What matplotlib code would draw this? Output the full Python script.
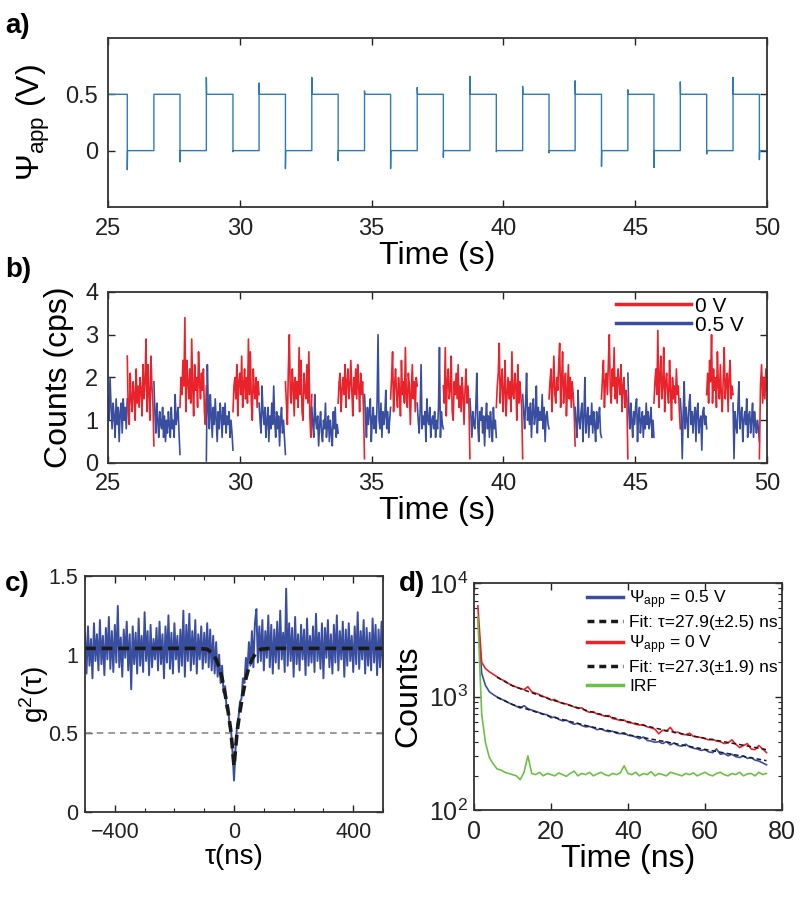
import numpy as np
import matplotlib
matplotlib.use("Agg")
import matplotlib.pyplot as plt
from matplotlib.lines import Line2D
from matplotlib.ticker import MultipleLocator

plt.rcParams['font.family'] = ['Liberation Sans', 'DejaVu Sans']
plt.rcParams['mathtext.fontset'] = 'custom'
plt.rcParams['mathtext.rm'] = 'Liberation Sans'
plt.rcParams['mathtext.it'] = 'Liberation Sans:italic'
plt.rcParams['mathtext.bf'] = 'Liberation Sans:bold'
plt.rcParams['axes.unicode_minus'] = True

# ---- data ----
# a) applied voltage: switching times, level after each switch, spike at each switch
switch_times = [25.73, 26.74, 27.73, 28.73, 29.74, 30.73, 31.73, 32.73, 33.73, 34.73,
                35.72, 36.73, 37.72, 38.73, 39.73, 40.73, 41.73, 42.72, 43.72, 44.72,
                45.71, 46.71, 47.71, 48.71, 49.71]
start_level = 0.5
levels = [0.0, 0.5] * 12 + [0.0]
spikes = [-0.17, 0.50, -0.10, 0.65, -0.01, 0.60, -0.16, 0.65, -0.09, 0.53,
          -0.16, 0.56, -0.06, 0.66, -0.01, 0.57, -0.02, 0.62, -0.14, 0.54,
          -0.15, 0.61, -0.03, 0.65, -0.08]

# b) counts (cps) in each segment between switches (blue = 0.5 V, red = 0 V)
count_segments = [
    [1.5, 1.0, 2.0, 1.3, 0.8, 1.4, 1.1, 0.6, 1.5, 0.9, 1.3, 0.5, 1.2, 1.4, 0.7, 1.5, 1.0, 1.3, 0.8, 1.5],
    [2.5, 1.2, 0.9, 2.1, 1.5, 1.2, 1.9, 1.6, 1.0, 2.2, 1.4, 1.8, 1.3, 2.0, 1.7, 1.1, 2.3, 1.5, 1.9, 2.9, 1.2, 2.3, 1.6, 1.0, 2.5, 1.8, 1.4, 0.4],
    [1.9, 1.2, 0.7, 1.4, 1.0, 0.6, 1.2, 0.9, 0.8, 1.3, 0.6, 1.1, 0.5, 1.0, 0.7, 1.2, 0.9, 0.6, 1.3, 0.8, 1.0, 0.6, 1.6, 0.9, 1.1, 1.3, 0.7, 0.2],
    [1.3, 2.0, 1.6, 2.4, 1.8, 3.4, 1.2, 2.4, 1.9, 1.5, 2.2, 1.4, 2.9, 1.8, 1.1, 2.3, 1.7, 2.0, 1.3, 2.6, 1.9, 1.5, 2.1, 1.7, 2.2, 1.2, 0.9, 1.8],
    [0.05, 2.3, 1.3, 0.8, 1.6, 1.1, 0.6, 1.3, 0.9, 1.5, 1.0, 0.5, 1.2, 0.8, 1.4, 1.1, 0.6, 1.3, 0.9, 1.4, 0.7, 1.1, 0.9, 1.2, 0.6, 1.0, 0.7, 0.3],
    [1.2, 1.8, 2.0, 1.5, 2.3, 1.1, 1.9, 2.1, 1.6, 2.5, 1.3, 1.8, 2.2, 1.5, 2.0, 1.4, 2.9, 1.6, 2.6, 1.4, 1.0, 2.2, 1.7, 1.5, 2.0, 1.3, 1.9, 1.6],
    [1.4, 1.0, 0.7, 1.8, 1.2, 0.9, 1.3, 0.6, 1.0, 1.3, 0.5, 1.1, 0.8, 1.4, 0.9, 1.8, 1.0, 0.6, 1.2, 0.8, 1.1, 0.4, 1.0, 1.3, 0.7, 1.0, 0.6, 0.2],
    [1.9, 1.4, 0.9, 2.2, 3.0, 1.6, 1.4, 2.2, 1.8, 1.1, 2.0, 1.5, 1.9, 1.3, 2.7, 1.6, 2.4, 1.2, 1.0, 2.1, 1.7, 1.5, 2.3, 1.4, 2.6, 1.1, 0.6, 1.6],
    [1.3, 0.9, 0.6, 1.6, 1.0, 0.8, 1.1, 0.4, 0.9, 1.2, 0.7, 0.5, 1.0, 0.8, 1.4, 0.6, 0.9, 1.1, 0.5, 1.0, 0.7, 0.4, 1.2, 0.8, 1.3, 0.6, 0.9, 0.7],
    [1.4, 1.9, 2.1, 1.2, 1.7, 2.0, 1.6, 2.3, 1.3, 1.9, 2.2, 1.5, 1.8, 2.4, 1.7, 1.1, 2.0, 1.6, 2.2, 1.5, 2.3, 1.8, 1.2, 2.1, 1.6, 1.9, 1.2, 0.1],
    [1.6, 1.1, 0.6, 1.3, 0.9, 1.2, 1.5, 0.5, 1.0, 1.3, 0.8, 1.1, 0.7, 1.4, 3.0, 1.0, 0.8, 1.4, 0.6, 1.2, 0.9, 1.1, 1.7, 0.8, 1.2, 0.7, 1.0, 1.3],
    [1.5, 2.0, 2.6, 1.2, 1.8, 2.2, 1.6, 1.3, 2.0, 1.7, 1.1, 2.4, 1.6, 1.9, 1.4, 2.7, 1.5, 1.3, 2.1, 1.8, 0.9, 1.7, 2.3, 1.5, 1.9, 1.2, 2.0, 1.8],
    [1.4, 1.0, 0.7, 1.2, 2.3, 0.8, 1.1, 0.9, 1.2, 0.5, 1.5, 1.0, 0.9, 1.3, 0.6, 1.0, 1.1, 0.8, 1.2, 0.6, 1.0, 0.8, 1.3, 2.7, 0.6, 1.2, 0.9, 0.8],
    [1.8, 1.4, 2.7, 1.1, 1.9, 2.2, 1.5, 1.7, 2.5, 1.2, 1.0, 1.9, 1.6, 2.1, 1.5, 2.3, 1.3, 1.8, 1.2, 2.0, 1.6, 0.9, 1.7, 2.2, 1.4, 1.8, 1.3, 0.1],
    [1.5, 1.1, 0.6, 1.2, 0.9, 0.8, 1.3, 2.1, 0.9, 0.5, 1.2, 1.0, 1.3, 0.7, 1.1, 0.4, 1.0, 1.4, 0.8, 1.1, 0.6, 1.2, 0.9, 0.5, 1.3, 0.8, 1.0, 0.6],
    [1.3, 1.8, 2.1, 2.8, 1.4, 1.9, 2.2, 1.2, 1.7, 2.4, 1.1, 1.6, 2.0, 1.5, 1.9, 1.2, 2.6, 1.6, 1.5, 2.1, 1.8, 1.0, 2.3, 1.4, 1.9, 1.6, 1.3, 0.1],
    [1.6, 1.2, 0.8, 1.4, 2.1, 1.0, 1.3, 0.9, 1.4, 0.6, 1.2, 1.5, 0.9, 1.1, 1.8, 0.7, 1.3, 1.0, 1.2, 1.0, 1.6, 0.8, 1.3, 0.5, 1.1, 1.2, 0.9, 0.8],
    [1.5, 1.9, 2.2, 1.2, 1.8, 2.5, 1.6, 1.4, 2.0, 1.7, 2.3, 2.8, 1.3, 1.9, 2.6, 1.4, 1.8, 2.1, 1.1, 1.7, 2.3, 1.5, 2.0, 1.3, 1.9, 1.6, 1.2, 0.4],
    [1.3, 0.9, 0.6, 1.7, 1.0, 0.8, 1.2, 1.4, 0.5, 1.1, 2.0, 0.7, 1.0, 1.3, 0.6, 1.1, 0.9, 1.4, 0.7, 1.2, 0.9, 0.5, 1.2, 0.8, 1.0, 1.3, 0.7, 0.6],
    [1.5, 2.0, 2.4, 1.3, 1.9, 2.1, 1.6, 2.3, 3.0, 1.7, 1.4, 2.2, 1.8, 2.7, 1.5, 2.0, 1.4, 2.2, 1.9, 1.6, 2.3, 1.2, 1.8, 2.0, 1.3, 1.7, 1.5, 0.1],
    [2.1, 1.2, 0.8, 1.4, 1.0, 0.6, 1.2, 0.9, 1.3, 1.5, 0.5, 1.1, 1.3, 0.7, 1.0, 1.2, 0.6, 1.1, 0.8, 1.4, 0.9, 1.2, 0.8, 1.0, 1.3, 0.6, 1.0, 0.6],
    [1.4, 1.9, 2.2, 1.6, 3.1, 1.3, 2.0, 2.5, 1.5, 1.8, 2.7, 1.2, 1.9, 2.1, 1.6, 1.4, 2.4, 1.7, 1.0, 2.0, 1.5, 1.8, 1.4, 2.2, 1.6, 1.8, 1.2, 0.8],
    [1.5, 1.1, 0.1, 1.2, 1.9, 0.8, 1.3, 1.0, 0.6, 1.4, 1.6, 0.9, 1.2, 0.7, 1.1, 1.3, 0.5, 1.2, 1.4, 0.7, 1.0, 1.1, 0.3, 1.2, 1.3, 0.9, 1.1, 0.8],
    [1.6, 2.1, 1.4, 2.4, 1.9, 3.0, 1.4, 2.2, 1.7, 2.0, 1.3, 2.6, 1.8, 1.5, 2.3, 1.6, 1.2, 2.0, 2.7, 1.5, 1.9, 2.1, 1.2, 2.0, 2.4, 1.5, 1.8, 1.6],
    [1.4, 0.1, 1.2, 0.9, 0.7, 1.3, 1.9, 0.8, 1.1, 1.3, 0.5, 1.0, 1.2, 0.9, 1.5, 0.6, 1.1, 1.2, 0.7, 1.0, 1.4, 0.6, 1.2, 0.9, 0.7, 1.0, 0.8, 0.5],
    [0.1, 1.8, 2.3, 1.4, 2.0, 1.5, 2.2, 1.7],
]

# c) g2(tau), 5 ns bins from -500 to 500 ns, and the fit
g2_values = [
    1.14, 0.88, 1.18, 0.93, 1.10, 0.85, 1.20, 0.96, 1.13, 0.90, 1.22, 0.94,
    1.12, 0.87, 1.17, 0.97, 1.24, 0.91, 1.15, 0.89, 1.19, 0.95, 1.31, 0.92,
    1.11, 0.86, 1.16, 0.98, 1.21, 0.90, 1.13, 0.78, 1.18, 0.94, 1.14, 0.88,
    1.23, 0.93, 1.12, 0.89, 1.27, 0.96, 1.15, 0.87, 1.19, 0.92, 1.10, 0.97,
    1.17, 0.90, 1.21, 0.94, 1.13, 0.85, 1.18, 0.95, 1.25, 0.91, 1.14, 0.88,
    1.20, 0.97, 1.12, 0.89, 1.16, 0.93, 1.28, 0.86, 1.19, 0.96, 1.26, 0.90,
    1.15, 0.94, 1.22, 0.88, 1.13, 0.97, 1.18, 0.91, 1.14, 0.95, 1.20, 0.92,
    1.16, 0.90, 1.12, 0.88, 1.08, 0.86, 1.00, 0.82, 0.93, 0.76, 0.80, 0.66,
    0.68, 0.55, 0.52, 0.38, 0.20, 0.40, 0.55, 0.60, 0.70, 0.72, 0.85, 0.82,
    0.98, 0.90, 1.08, 0.93, 1.15, 0.92, 1.20, 1.29, 0.95,
    1.18, 0.96, 1.22, 0.90, 1.15, 0.98, 1.25, 0.92, 1.19, 0.88, 1.16, 0.95,
    1.21, 0.91, 1.28, 0.97, 1.14, 0.89, 1.42, 0.93, 1.20, 0.96, 1.17, 0.86,
    1.24, 0.94, 1.13, 0.90, 1.19, 0.97, 1.16, 0.87, 1.23, 0.93, 1.12, 0.95,
    1.18, 0.89, 1.26, 0.96, 1.14, 0.91, 1.20, 0.85, 1.17, 0.98, 1.22, 0.92,
    1.13, 0.88, 1.19, 0.95, 1.25, 0.90, 1.15, 0.97, 1.21, 0.86, 1.16, 0.93,
    1.20, 0.96, 1.12, 0.89, 1.18, 0.94, 1.27, 0.91, 1.15, 0.97, 1.22, 0.88,
    1.17, 0.93, 1.14, 0.90, 1.23, 0.95, 1.19, 0.87, 1.16, 0.92, 1.21, 0.89,
]
fit_tau = [-500, -120, -90, -73, -60, -50, -40, -28, -20, -11, -5, 0,
           5, 11, 20, 28, 40, 50, 60, 73, 90, 120, 500]
fit_g2 = [1.04, 1.04, 1.035, 1.01, 0.97, 0.92, 0.85, 0.73, 0.64, 0.52, 0.40, 0.29,
          0.40, 0.52, 0.64, 0.73, 0.85, 0.92, 0.97, 1.01, 1.035, 1.04, 1.04]

# d) lifetime decays, 1 ns bins from 1 to 76 ns
decay_05V = [5000, 1600, 1250, 1100, 1040, 990, 950, 920, 880, 850,
             820, 790, 830, 780, 760, 740, 720, 700, 690, 650,
             660, 630, 610, 620, 590, 570, 580, 555, 540, 545,
             530, 510, 520, 500, 490, 495, 475, 470, 480, 455,
             450, 440, 425, 440, 410, 405, 395, 400, 385, 400,
             375, 390, 370, 365, 380, 360, 350, 345, 335, 340,
             325, 320, 345, 310, 315, 300, 310, 295, 290, 300,
             285, 290, 275, 270, 260, 250]
decay_0V = [6300, 2000, 1760, 1650, 1570, 1490, 1420, 1370, 1300, 1250,
            1210, 1180, 1150, 1220, 1100, 1070, 1040, 1000, 975, 930,
            940, 895, 870, 860, 835, 810, 785, 795, 750, 725,
            735, 700, 690, 670, 680, 640, 630, 615, 620, 590,
            585, 570, 560, 565, 540, 530, 515, 470, 505, 495,
            535, 480, 485, 465, 460, 475, 445, 440, 435, 425,
            415, 420, 405, 400, 385, 390, 415, 380, 355, 370,
            385, 345, 340, 370, 345, 320]
irf = [5000, 700, 390, 290, 255, 230, 225, 215, 210, 205,
       200, 185, 215, 300, 210, 205, 215, 200, 210, 205,
       200, 212, 205, 198, 210, 220, 200, 210, 205, 215,
       200, 208, 215, 205, 200, 210, 205, 212, 245, 210,
       205, 215, 200, 210, 205, 218, 200, 210, 205, 200,
       215, 210, 205, 200, 210, 205, 212, 200, 208, 215,
       205, 200, 210, 215, 205, 200, 210, 205, 215, 200,
       208, 210, 200, 215, 205, 210]
fit_t = [6, 10, 15, 20, 30, 40, 50, 60, 70, 76]
fit_05V = [985, 850, 750, 665, 545, 460, 398, 342, 297, 272]
fit_0V = [1480, 1240, 1080, 940, 740, 600, 500, 428, 372, 340]

RED = '#e8232b'
BLUE = '#3a4ea0'
GREEN = '#6cbf47'
LINEBLUE = '#2c7bb6'


def style(ax, labelsize=17):
    ax.tick_params(which='both', direction='in', top=True, right=True,
                   colors='#222222', labelsize=labelsize)
    ax.tick_params(which='major', length=5, width=1.0)
    ax.tick_params(which='minor', length=3, width=0.8)
    for s in ax.spines.values():
        s.set_linewidth(1.3)
        s.set_color('#333333')


fig = plt.figure(figsize=(8.02, 9.19), dpi=100)

# ---- a) ----
ax1 = fig.add_axes([0.1347, 0.7748, 0.8217, 0.1839])
xa, ya = [25.0], [start_level]
prev = start_level
for t, lev, sp in zip(switch_times, levels, spikes):
    xa += [t, t, t + 0.01]
    ya += [prev, sp, lev]
    prev = lev
xa.append(50.0)
ya.append(prev)
ax1.plot(xa, ya, color=LINEBLUE, lw=1.0)
ax1.set_xlim(25, 50)
ax1.set_ylim(-0.5, 1.0)
ax1.set_yticks([0, 0.5])
ax1.set_yticklabels(['0', '0.5'])
ax1.set_xticks(range(25, 51, 5))
style(ax1)
ax1.tick_params(axis='x', pad=8)
ax1.tick_params(axis='y', pad=7)
ax1.set_xlabel('Time (s)', fontsize=23, labelpad=1)
ax1.set_ylabel(r'$\Psi_{\rm app}$ (V)', fontsize=23, labelpad=10)

# ---- b) ----
ax2 = fig.add_axes([0.1347, 0.4962, 0.8217, 0.1861])
bounds = [25.0] + switch_times + [50.0]
for i, seg in enumerate(count_segments):
    xs = np.linspace(bounds[i], bounds[i + 1], len(seg))
    ax2.plot(xs, seg, color=BLUE if i % 2 == 0 else RED, lw=1.2)
ax2.set_xlim(25, 50)
ax2.set_ylim(0, 4)
ax2.set_xticks(range(25, 51, 5))
ax2.set_yticks([0, 1, 2, 3, 4])
style(ax2)
ax2.tick_params(axis='x', pad=7)
ax2.tick_params(axis='y', pad=7)
ax2.set_xlabel('Time (s)', fontsize=23, labelpad=1)
ax2.set_ylabel('Counts (cps)', fontsize=23, labelpad=8)
ax2.legend(handles=[Line2D([], [], color=RED, lw=2.5),
                    Line2D([], [], color=BLUE, lw=2.5)],
           labels=['0 V', '0.5 V'], loc='upper left', bbox_to_anchor=(0.768, 0.985),
           frameon=False, fontsize=15, handlelength=3.6, handletextpad=0.2,
           labelspacing=0.0, borderpad=0.1, borderaxespad=0)

# ---- c) ----
ax3 = fig.add_axes([0.106, 0.1164, 0.3716, 0.2568])
tau = np.arange(-500, 501, 5)
ax3.axhline(0.5, color='#8a8a8a', lw=1.2, dashes=(4, 3))
ax3.plot(tau, g2_values, color=BLUE, lw=1.4)
ax3.plot(fit_tau, fit_g2, color='#1a1a1a', lw=2.6, dashes=(3, 1.6))
ax3.set_xlim(-500, 500)
ax3.set_ylim(0, 1.5)
ax3.set_xticks([-400, 0, 400])
ax3.xaxis.set_minor_locator(MultipleLocator(100))
ax3.set_yticks([0, 0.5, 1, 1.5])
ax3.set_yticklabels(['0', '0.5', '1', '1.5'])
style(ax3, labelsize=15.5)
ax3.tick_params(axis='x', pad=7)
ax3.tick_params(axis='y', pad=5)
ax3.set_xlabel('τ(ns)', fontsize=20, labelpad=1)
ax3.set_ylabel(r'g$^2$(τ)', fontsize=20, labelpad=-2)

# ---- d) ----
ax4 = fig.add_axes([0.591, 0.1186, 0.384, 0.247])
t = np.arange(1, 77)
ax4.plot(t, decay_05V, color=BLUE, lw=1.2)
ax4.plot(fit_t, fit_05V, color='#1a1a1a', lw=1.1, dashes=(3, 2))
ax4.plot(t, decay_0V, color=RED, lw=1.2)
ax4.plot(fit_t, fit_0V, color='#1a1a1a', lw=1.1, dashes=(3, 2))
ax4.plot(t, irf, color=GREEN, lw=1.2)
ax4.set_yscale('log')
ax4.set_xlim(0, 80)
ax4.set_ylim(100, 10000)
ax4.set_xticks(range(0, 81, 20))
style(ax4, labelsize=18)
ax4.tick_params(axis='x', pad=7)
ax4.tick_params(axis='y', pad=4)
ax4.set_xlabel('Time (ns)', fontsize=23, labelpad=0)
ax4.set_ylabel('Counts', fontsize=23, labelpad=4)
ax4.legend(handles=[Line2D([], [], color=BLUE, lw=2.5),
                    Line2D([], [], color='#1a1a1a', lw=2.5, dashes=(2, 1.4)),
                    Line2D([], [], color=RED, lw=2.5),
                    Line2D([], [], color='#1a1a1a', lw=2.5, dashes=(2, 1.4)),
                    Line2D([], [], color=GREEN, lw=2.5)],
           labels=[r'$\Psi_{\rm app}$ = 0.5 V', 'Fit: τ=27.9(±2.5) ns',
                   r'$\Psi_{\rm app}$ = 0 V', 'Fit: τ=27.3(±1.9) ns', 'IRF'],
           loc='upper left', bbox_to_anchor=(0.36, 0.985), frameon=False,
           fontsize=12.5, handlelength=2.1, handletextpad=0.35,
           labelspacing=0.22, borderpad=0.1, borderaxespad=0)

# panel labels
for x, y, s in [(0.006, 0.972, 'a)'), (0.006, 0.706, 'b)'),
                (0.006, 0.365, 'c)'), (0.497, 0.365, 'd)')]:
    fig.text(x, y, s, fontsize=20, fontweight='bold', va='center', ha='left')

fig.savefig('out.png', dpi=100)
